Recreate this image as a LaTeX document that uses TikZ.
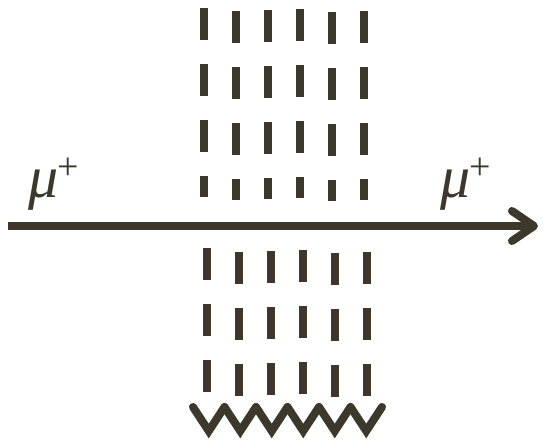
\documentclass[tikz,border=0pt]{standalone}
\usepackage{fontspec}
\newfontfamily\mufont{Liberation Serif}
\usetikzlibrary{arrows.meta}
\definecolor{ink}{RGB}{60,56,44}
\newcommand{\muplus}{\textit{μ}\kern-0.02em\raisebox{0.3em}{\fontsize{38}{40}\selectfont +}}

\begin{document}
\begin{tikzpicture}[
		x=1pt, y=-1pt,
		beam/.style={draw=ink, line width=8pt, -{Straight Barb[length=22pt, width=30pt, round]}},
		field/.style={draw=ink, line width=8pt, dash pattern=on 32pt off 24pt},
		wave/.style={draw=ink, line width=8pt, line cap=round, line join=miter},
		label/.style={text=ink, inner sep=0pt, anchor=base west, font=\mufont\fontsize{60}{66}\selectfont},
		>=Stealth
		]
		
		\useasboundingbox (0,0) rectangle (544,442);
		
		% Beam of muons
		\coordinate (in) at (8,226);
		\coordinate (out) at (538,226);
		\draw[beam] (in) -- (out);
		\node[label] (muin) at (28,197) {\muplus};
		\node[label] (muout) at (440,197) {\muplus};
		
		% Field lines above the beam
		\foreach \i/\x/\y in {1/204/8, 2/236/11, 3/268/10, 4/300/9, 5/332/12, 6/364/11}{
			\coordinate (top\i) at (\x,\y);
			\coordinate (mid\i) at (\x,\y+189);
			\draw[field] (top\i) -- (mid\i);
		}
		
		% Field lines below the beam
		\foreach \i/\x/\y in {1/207/248, 2/239/252, 3/271/251, 4/303/250, 5/335/253, 6/367/252}{
			\coordinate (low\i) at (\x,\y);
			\coordinate (bot\i) at (\x,\y+145);
			\draw[field] (low\i) -- (bot\i);
		}
		
		% Zigzag at the bottom
		\foreach \k in {0,...,5}{
			\coordinate (p\k) at (193+31.5*\k,407);
			\coordinate (v\k) at (208.75+31.5*\k,431);
			\coordinate (q\k) at (224.5+31.5*\k,407);
			\draw[wave] (p\k) -- (v\k) -- (q\k);
		}
		
	\end{tikzpicture}
\end{document}
